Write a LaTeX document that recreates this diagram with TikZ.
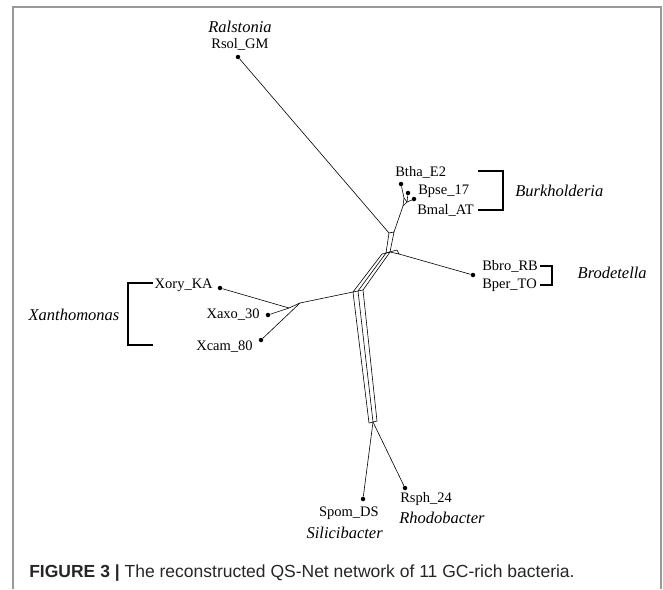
\documentclass[tikz,border=0pt]{standalone}
\usepackage{fontspec}
\setmainfont{Liberation Serif}
\newfontfamily\capfont{Liberation Sans}
\usetikzlibrary{positioning}
\tikzset{every picture/.style={line width=0.6pt}}

\begin{document}
\begin{tikzpicture}[x=1pt, y=-1pt,
    taxon/.style={font=\fontsize{14.5}{16}\selectfont, inner sep=0pt},
    genus/.style={font=\fontsize{16.5}{18}\selectfont\itshape, inner sep=0pt},
    leaf/.style={circle, fill=black, inner sep=0pt, minimum size=4.5pt},
    clade/.style={line width=1.8pt}]
    \useasboundingbox (0,0) rectangle (663,589);

    % Frame
    \coordinate (fbl) at (12.5,589);
    \coordinate (ftl) at (12.5,6.5);
    \coordinate (ftr) at (661,6.5);
    \coordinate (fbr) at (661,589);
    \draw[black!40, line width=2pt] (fbl) -- (ftl) -- (ftr) -- (fbr);

    % Leaves
    \node[leaf] (rsol) at (238,57) {};
    \node[leaf] (btha) at (401,184) {};
    \node[leaf] (bpse) at (408,193) {};
    \node[leaf] (bmal) at (414,199) {};
    \node[leaf] (bbro) at (473,275) {};
    \node[leaf] (xory) at (220,288) {};
    \node[leaf] (xaxo) at (268,315) {};
    \node[leaf] (xcam) at (261,340) {};
    \node[leaf] (spom) at (363,499) {};
    \node[leaf] (rsph) at (405,488) {};

    % Splits in the middle
    \coordinate (c1) at (353,292);
    \coordinate (c2) at (358,291);
    \coordinate (c3) at (363,290);
    \coordinate (d1) at (369,423);
    \coordinate (d2) at (373,422);
    \coordinate (d3) at (377,421);
    \coordinate (u1) at (382,254);
    \coordinate (u2) at (386,253);
    \coordinate (u3) at (390,252);
    \coordinate (t1) at (389,233);
    \coordinate (t2) at (394,232);
    \coordinate (bk1) at (397,250);
    \coordinate (bk2) at (399,254);
    \foreach \i in {1,2,3} {
        \draw (c\i) -- (d\i);
        \draw (c\i) -- (u\i);
    }
    \draw (c1) -- (c3);
    \draw (d1) -- (d3);
    \draw (u1) -- (u3);
    \draw (u2) -- (t1) -- (t2) -- (u3);
    \draw (u2) -- (bk1) -- (bk2) -- (u3);

    % Burkholderia branch
    \coordinate (bj) at (403,206);
    \coordinate (bj1) at (404,198);
    \coordinate (bj2) at (407,202);
    \draw (t2) -- (bj);
    \draw (bj) -- (bj1) -- (btha);
    \draw (bj) -- (bj2) -- (bpse);
    \draw (bj2) -- (bmal);
    \draw (bj1) -- (bj2);

    % Other branches
    \coordinate (xj) at (300,303);
    \coordinate (xk) at (289,308);
    \draw (rsol) -- (t1);
    \draw (bk2) -- (bbro);
    \draw (c1) -- (xj) -- (xk);
    \draw (xk) -- (xory);
    \draw (xk) -- (xaxo);
    \draw (xj) -- (xcam);
    \draw (d2) -- (spom);
    \draw (d2) -- (rsph);

    % Labels
    \node[genus] (ralst) at (240,27) {Ralstonia};
    \node[taxon] (rsollbl) at (240,44) {Rsol\_GM};
    \node[taxon, anchor=west] (bthalbl) at (395,172) {Btha\_E2};
    \node[taxon, anchor=west] (bpselbl) at (418,191) {Bpse\_17};
    \node[taxon, anchor=west] (bmallbl) at (417,210) {Bmal\_AT};
    \node[taxon, anchor=west] (bbrolbl) at (482,266) {Bbro\_RB};
    \node[taxon, anchor=west] (bperlbl) at (482,285) {Bper\_TO};
    \node[taxon, anchor=east] (xorylbl) at (213,285) {Xory\_KA};
    \node[taxon, anchor=east] (xaxolbl) at (260,315) {Xaxo\_30};
    \node[taxon, anchor=east] (xcamlbl) at (253,347) {Xcam\_80};
    \node[taxon, anchor=east] (spomlbl) at (379,513) {Spom\_DS};
    \node[taxon, anchor=west] (rsphlbl) at (400,499) {Rsph\_24};

    % Genus brackets
    \coordinate (bur1) at (478,171);
    \coordinate (bur2) at (503,171);
    \coordinate (bur3) at (503,210);
    \coordinate (bur4) at (478,210);
    \draw[clade] (bur1) -- (bur2) -- (bur3) -- (bur4);
    \node[genus, anchor=west] (burk) at (515,191) {Burkholderia};

    \coordinate (bro1) at (540,266);
    \coordinate (bro2) at (552,266);
    \coordinate (bro3) at (552,285);
    \coordinate (bro4) at (540,285);
    \draw[clade] (bro1) -- (bro2) -- (bro3) -- (bro4);
    \node[genus, anchor=east] (brod) at (647,273) {Brodetella};

    \coordinate (xan1) at (153,283);
    \coordinate (xan2) at (128,283);
    \coordinate (xan3) at (128,345);
    \coordinate (xan4) at (153,345);
    \draw[clade] (xan1) -- (xan2) -- (xan3) -- (xan4);
    \node[genus] (xanth) at (74,315) {Xanthomonas};

    \node[genus, anchor=east] (silic) at (383,533) {Silicibacter};
    \node[genus, anchor=west] (rhodo) at (399,518) {Rhodobacter};

    % Caption
    \node[anchor=west, inner sep=0pt, font=\capfont\fontsize{17.5}{19}\selectfont, text=black!85] (caption) at (29,573)
        {\textbf{FIGURE 3 |} The reconstructed QS-Net network of 11 GC-rich bacteria.};
\end{tikzpicture}
\end{document}
